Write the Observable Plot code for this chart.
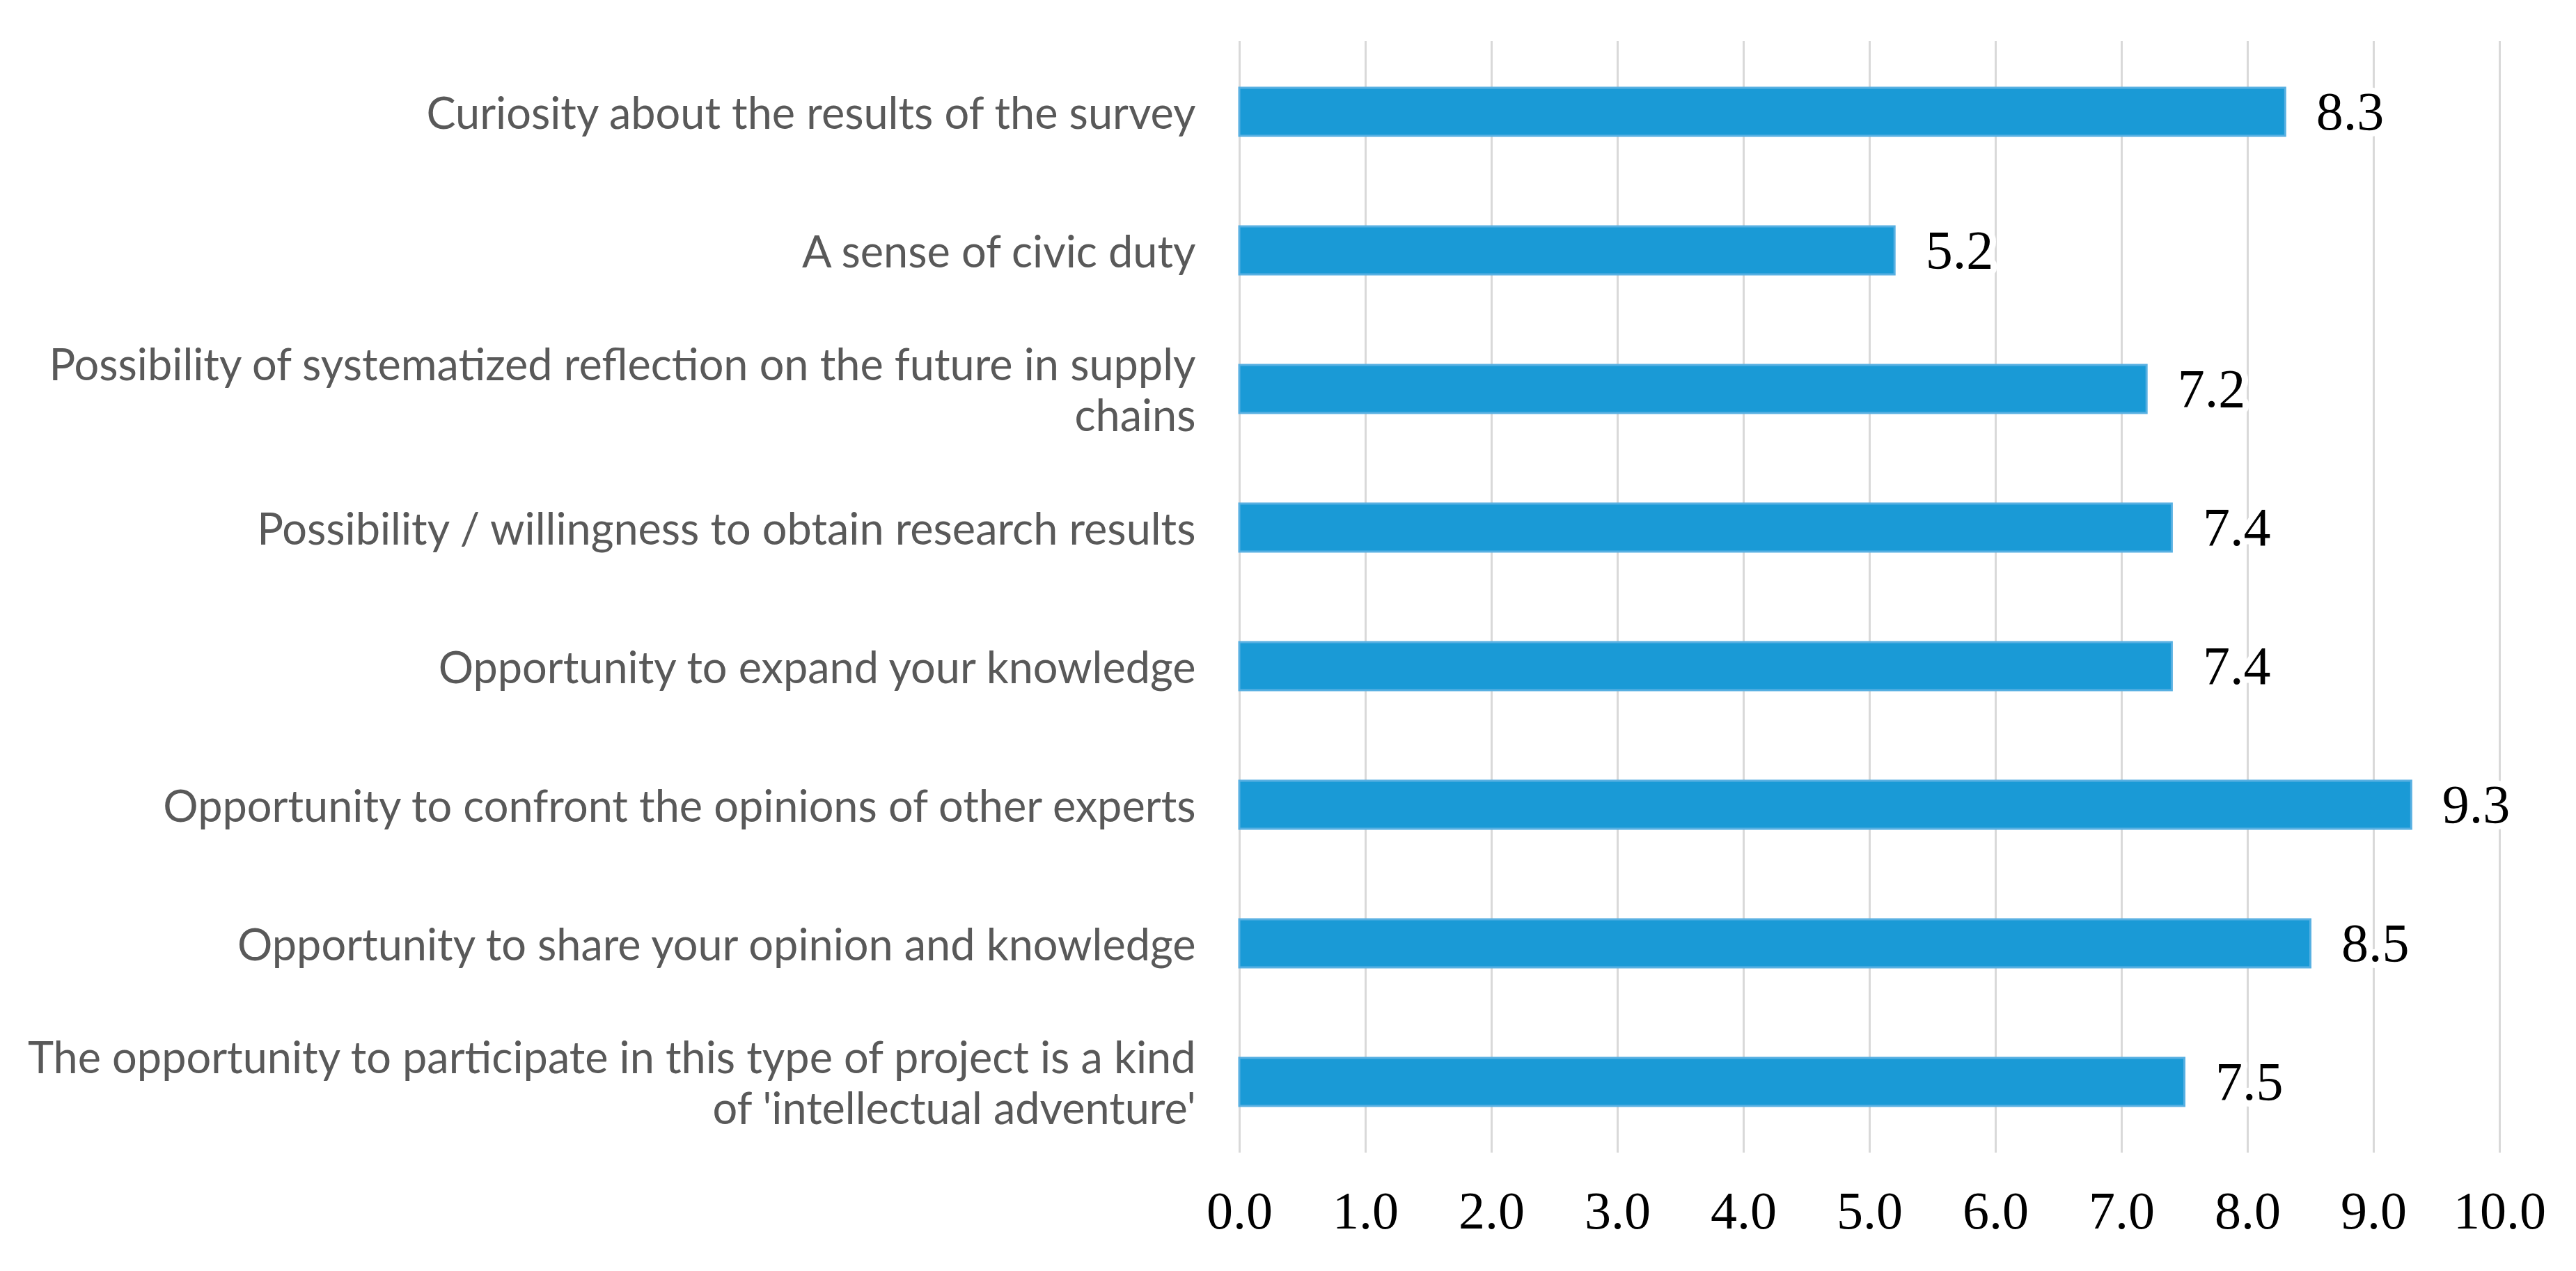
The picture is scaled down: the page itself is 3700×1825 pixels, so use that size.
<!DOCTYPE html>
<html>
<head>
<meta charset="utf-8">
<script src="https://cdn.jsdelivr.net/npm/d3@7"></script>
<script src="https://cdn.jsdelivr.net/npm/@observablehq/plot@0.6"></script>
<style>
  html, body { margin: 0; padding: 0; background: #fff; }
</style>
</head>
<body>
<div id="chart"></div>
<script>
const categories = [
  "Curiosity about the results of the survey",
  "A sense of civic duty",
  "Possibility of systematized reflection on the future in supply\nchains",
  "Possibility / willingness to obtain research results",
  "Opportunity to expand your knowledge",
  "Opportunity to confront the opinions of other experts",
  "Opportunity to share your opinion and knowledge",
  "The opportunity to participate in this type of project is a kind\nof 'intellectual adventure'"
];
const values = [8.3, 5.2, 7.2, 7.4, 7.4, 9.3, 8.5, 7.5];
const xTicks = [0, 1, 2, 3, 4, 5, 6, 7, 8, 9, 10];

const data = categories.map((c, i) => ({category: c, value: values[i]}));

const chart = Plot.plot({
  width: 3700,
  height: 1825,
  marginTop: 59,
  marginBottom: 170,
  marginLeft: 1780,
  marginRight: 110,
  style: {background: "#fff"},
  x: {domain: [0, 10]},
  y: {domain: categories, paddingInner: 0.655, paddingOuter: 0.3275},
  marks: [
    Plot.gridX(xTicks, {stroke: "#d9d9d9", strokeOpacity: 1, strokeWidth: 3}),
    Plot.barX(data, {
      x: "value", y: "category",
      fill: "#1a9ad6", stroke: "#58b0e2", strokeWidth: 3
    }),
    Plot.text(data, {
      x: "value", y: "category",
      text: d => d.value.toFixed(1),
      dx: 44, textAnchor: "start",
      fontSize: 78, fontFamily: "'Liberation Serif', 'Times New Roman', serif",
      fill: "#000", stroke: "#fff", strokeWidth: 18, paintOrder: "stroke"
    }),
    Plot.axisY({
      tickSize: 0, tickPadding: 63, label: null,
      fontSize: 63, lineHeight: 1.17,
      fontFamily: "Lato, 'Noto Sans', sans-serif",
      fill: "#595959"
    }),
    Plot.axisX(xTicks, {
      tickSize: 0, tickPadding: 55, label: null,
      tickFormat: d => d.toFixed(1),
      fontSize: 76, fontFamily: "'Liberation Serif', 'Times New Roman', serif",
      fill: "#000"
    })
  ]
});
document.getElementById("chart").appendChild(chart);
</script>
</body>
</html>
